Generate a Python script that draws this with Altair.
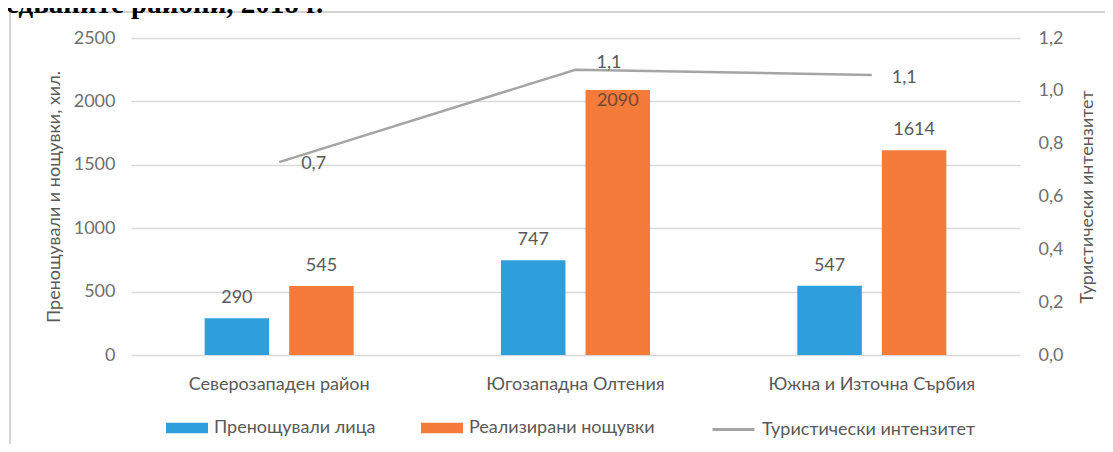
import altair as alt
import pandas as pd

# ---- data ----
regions = ["Северозападен район", "Югозападна Олтения", "Южна и Източна Сърбия"]
bar_series = ["Пренощували лица", "Реализирани нощувки"]
persons = [290, 747, 547]
nights = [545, 2090, 1614]
line_series = "Туристически интензитет"
intensity = [0.73, 1.08, 1.06]
intensity_labels = ["0,7", "1,1", "1,1"]
bar_colors = ["#2E9FDA", "#F47B3A"]
line_color = "#A5A5A5"
left_ticks = [0, 500, 1000, 1500, 2000, 2500]
right_ticks = [0, 0.2, 0.4, 0.6, 0.8, 1.0, 1.2]
left_title = "Пренощували и нощувки, хил."
right_title = "Туристически интензитет"
title_fragment = "едваните райони, 2018 г."

bars_df = pd.DataFrame(
    [{"region": r, "series": bar_series[0], "value": v} for r, v in zip(regions, persons)]
    + [{"region": r, "series": bar_series[1], "value": v} for r, v in zip(regions, nights)]
)
line_df = pd.DataFrame({
    "region": regions,
    "series": [line_series] * 3,
    "intensity": intensity,
    "label": intensity_labels,
})

FONT = "Lato"
W, H = 889, 317
GREY_TXT = "#6f6f6f"

x_enc = alt.X(
    "region:N", sort=regions,
    scale=alt.Scale(paddingInner=0.497, paddingOuter=0.2485),
    axis=alt.Axis(title=None, labelAngle=0, ticks=False, domain=False,
                  labelPadding=20, labelFontSize=18, labelColor="#595959",
                  labelFont=FONT, labelLimit=300),
)
xoff = alt.XOffset("series:N", sort=bar_series,
                   scale=alt.Scale(paddingInner=0.237, paddingOuter=0))

y_left = alt.Y(
    "value:Q", scale=alt.Scale(domain=[0, 2500]),
    axis=alt.Axis(values=left_ticks, format="d", title=left_title, ticks=False,
                  domain=False, grid=True, gridColor="#d9d9d9", gridWidth=1.5,
                  labelPadding=16, labelFontSize=18, labelColor=GREY_TXT, labelFont=FONT,
                  titleFontSize=18, titleColor="#595959", titleFont=FONT,
                  titleFontWeight="normal", titlePadding=10),
)

bar_legend = alt.Legend(
    title=None, orient="none", legendX=35, legendY=369, direction="horizontal",
    symbolType="M-1,-0.25H1V0.25H-1Z", symbolSize=1764, symbolStrokeWidth=0,
    labelFontSize=18, labelColor="#595959", labelFont=FONT, labelOffset=6,
    columnPadding=45, labelLimit=400,
)
line_legend = alt.Legend(
    title=None, orient="none", legendX=580, legendY=369, direction="horizontal",
    symbolType="M-1,0H1", symbolSize=1764, symbolStrokeWidth=3,
    labelFontSize=18, labelColor="#595959", labelFont=FONT, labelOffset=6,
    labelLimit=400,
)

bars = alt.Chart(bars_df).mark_bar().encode(
    x=x_enc, xOffset=xoff, y=y_left,
    fill=alt.Fill("series:N", scale=alt.Scale(domain=bar_series, range=bar_colors),
                  legend=bar_legend),
)

label_base = alt.Chart(bars_df).encode(
    x=x_enc, xOffset=xoff, y=y_left, text=alt.Text("value:Q", format="d"),
)
bar_labels = label_base.transform_filter("datum.value < 2000").mark_text(
    dy=-20, baseline="middle", fontSize=18, font=FONT, color="#595959")
bar_labels_in = label_base.transform_filter("datum.value >= 2000").mark_text(
    dy=11, baseline="middle", fontSize=18, font=FONT, color="#6d4a36")

y_right = alt.Y(
    "intensity:Q", scale=alt.Scale(domain=[0, 1.2]),
    axis=alt.Axis(orient="right", values=right_ticks,
                  labelExpr="replace(format(datum.value, '.1f'), '.', ',')",
                  title=right_title, ticks=False, domain=False, grid=False,
                  labelPadding=18, labelFontSize=18, labelColor=GREY_TXT, labelFont=FONT,
                  titleFontSize=18, titleColor="#595959", titleFont=FONT,
                  titleFontWeight="normal", titleAngle=270, titlePadding=34),
)

line = alt.Chart(line_df).mark_line(strokeWidth=2.5).encode(
    x=x_enc, y=y_right,
    stroke=alt.Stroke("series:N", scale=alt.Scale(domain=[line_series], range=[line_color]),
                      legend=line_legend),
)
line_text_base = alt.Chart(line_df).encode(x=x_enc, y=y_right, text="label:N")
lt0 = line_text_base.transform_filter(alt.datum.region == regions[0]).mark_text(
    align="left", baseline="middle", dx=22, dy=2, fontSize=18, font=FONT, color="#595959")
lt1 = line_text_base.transform_filter(alt.datum.region == regions[1]).mark_text(
    align="left", baseline="middle", dx=21, dy=-7, fontSize=18, font=FONT, color="#595959")
lt2 = line_text_base.transform_filter(alt.datum.region == regions[2]).mark_text(
    align="left", baseline="middle", dx=20, dy=3, fontSize=18, font=FONT, color="#595959")

frame_df = pd.DataFrame({"k": [0]})
frame_left = alt.Chart(frame_df).mark_rule(color="#d4d4d4", strokeWidth=2).encode(
    x=alt.value(-121), y=alt.value(-26), y2=alt.value(H + 120))
frame_top = alt.Chart(frame_df).mark_rule(color="#d4d4d4", strokeWidth=2).encode(
    x=alt.value(-121), x2=alt.value(W + 120), y=alt.value(-26))
title_txt = alt.Chart(pd.DataFrame({"t": [title_fragment]})).mark_text(
    align="left", baseline="alphabetic", fontSize=29, font="Liberation Serif",
    fontWeight="bold", color="#000000").encode(
    text="t:N", x=alt.value(-125), y=alt.value(-25))

left_layer = alt.layer(bars, bar_labels, bar_labels_in)
right_layer = alt.layer(line, lt0, lt1, lt2)

chart = alt.layer(left_layer, right_layer, frame_left, frame_top, title_txt).resolve_scale(
    y="independent"
).properties(
    width=W, height=H,
    padding={"left": 123, "top": 30, "right": 85, "bottom": 89},
    autosize=alt.AutoSizeParams(type="none"),
    background="white",
).configure_view(stroke=None)

chart.save("out.html", embed_options={"renderer": "svg", "actions": False})
